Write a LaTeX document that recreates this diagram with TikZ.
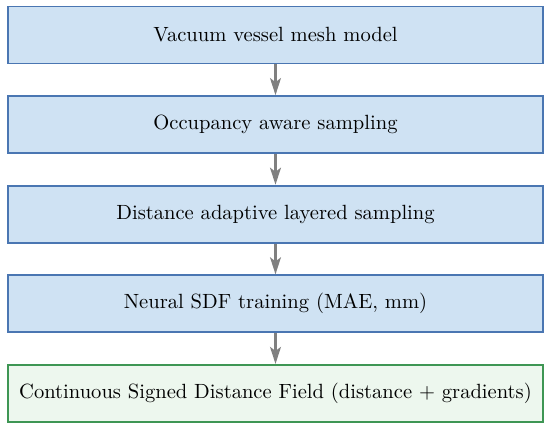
\documentclass[tikz,border=0pt]{standalone}
\usetikzlibrary{arrows.meta}
\definecolor{bfill}{RGB}{207,226,243}
\definecolor{bdraw}{RGB}{74,118,178}
\definecolor{gfill}{RGB}{237,247,238}
\definecolor{gdraw}{RGB}{62,150,84}
\definecolor{arr}{RGB}{128,128,128}
\begin{document}
\begin{tikzpicture}[x=0.486pt,y=-0.486pt,
  stepbox/.style={draw=bdraw,fill=bfill,line width=0.9pt,minimum width=535*0.486pt,minimum height=57*0.486pt,inner sep=0pt,font=\normalsize},
  endbox/.style={stepbox,draw=gdraw,fill=gfill},
  flow/.style={draw=arr,line width=1pt,-{Stealth[length=8.3pt,width=5.3pt,inset=2pt]}}]
\useasboundingbox (0,0) rectangle (550,429);
\node[stepbox] (a) at (275.5,35) {Vacuum vessel mesh model};
\node[stepbox] (b) at (275.5,124.6) {Occupancy aware sampling};
\node[stepbox] (c) at (275.5,214.2) {Distance adaptive layered sampling};
\node[stepbox] (d) at (275.5,303.8) {Neural SDF training (MAE, mm)};
\node[endbox] (e) at (275.5,393.4) {Continuous Signed Distance Field (distance $+$ gradients)};
\draw[flow] (a) -- (b);
\draw[flow] (b) -- (c);
\draw[flow] (c) -- (d);
\draw[flow] (d) -- (e);
\end{tikzpicture}
\end{document}
